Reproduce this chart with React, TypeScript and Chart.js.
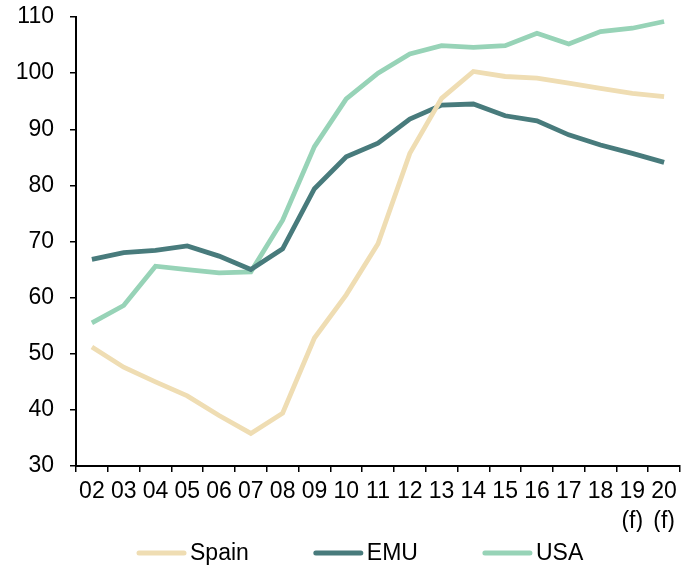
import { useEffect, useRef } from "react";
import { Chart, registerables } from "chart.js";

Chart.register(...registerables);

const categories: (string | string[])[] = [
  "02", "03", "04", "05", "06", "07", "08", "09", "10", "11",
  "12", "13", "14", "15", "16", "17", "18", ["19", "(f)"], ["20", "(f)"],
];
const spain = [51.2, 47.6, 45.0, 42.5, 39.0, 35.8, 39.4, 52.8, 60.5, 69.6, 85.7, 95.5, 100.3, 99.4, 99.1, 98.2, 97.3, 96.4, 95.8];
const emu = [66.8, 68.0, 68.4, 69.2, 67.4, 65.0, 68.7, 79.4, 85.1, 87.5, 91.8, 94.3, 94.5, 92.4, 91.5, 89.0, 87.2, 85.7, 84.1];
const usa = [55.5, 58.6, 65.6, 65.0, 64.4, 64.6, 73.8, 86.9, 95.4, 100.0, 103.4, 104.9, 104.6, 104.9, 107.1, 105.2, 107.4, 108.0, 109.2];
const seriesNames = ["Spain", "EMU", "USA"];
const seriesColors = ["#EFDDB3", "#487B7C", "#97D3B7"];
const yMin = 30;
const yMax = 110;
const yStep = 10;

const FONT = "'Liberation Sans', Arial, sans-serif";
const FONT_SIZE = 23;

const lineLegend = {
  id: "lineLegend",
  afterDraw(chart: any) {
    const ctx = chart.ctx as CanvasRenderingContext2D;
    const ds = chart.data.datasets;
    ctx.save();
    ctx.font = `${FONT_SIZE}px ${FONT}`;
    ctx.textBaseline = "middle";
    ctx.textAlign = "left";
    const lineW = 45;
    const gap = 6;
    const spacing = 67;
    const y = 553;
    let x = chart.chartArea.left + 63;
    ds.forEach((d: any) => {
      ctx.strokeStyle = d.borderColor;
      ctx.lineWidth = 5;
      ctx.lineCap = "round";
      ctx.beginPath();
      ctx.moveTo(x, y);
      ctx.lineTo(x + lineW, y);
      ctx.stroke();
      ctx.fillStyle = "#000";
      ctx.fillText(d.label, x + lineW + gap, y + 1);
      x += lineW + gap + ctx.measureText(d.label).width + spacing;
    });
    ctx.restore();
  },
};

export default function App() {
  const ref = useRef<HTMLCanvasElement | null>(null);
  useEffect(() => {
    if (!ref.current) return;
    const series = [spain, emu, usa];
    const chart = new Chart(ref.current, {
      type: "line",
      data: {
        labels: categories,
        datasets: series.map((s, i) => ({
          label: seriesNames[i],
          data: s,
          borderColor: seriesColors[i],
          backgroundColor: seriesColors[i],
          borderWidth: 4.8,
          pointRadius: 0,
          tension: 0,
          fill: false,
        })),
      },
      options: {
        animation: false,
        responsive: false,
        maintainAspectRatio: false,
        layout: { padding: { top: 17, right: 1, bottom: 35, left: 0 } },
        plugins: {
          legend: { display: false },
          tooltip: { enabled: false },
        },
        scales: {
          x: {
            offset: true,
            grid: {
              display: true,
              drawOnChartArea: false,
              offset: true,
              color: "#000",
              lineWidth: 1.5,
              tickLength: 6,
            },
            border: { color: "#000", width: 2 },
            ticks: {
              color: "#000",
              font: { family: FONT, size: FONT_SIZE, lineHeight: 1.3 },
              padding: 5,
              maxRotation: 0,
              autoSkip: false,
            },
            afterFit: (s: any) => { s.height = 66; s.paddingLeft = 0; s.paddingRight = 0; },
          },
          y: {
            min: yMin,
            max: yMax,
            grid: {
              display: true,
              drawOnChartArea: false,
              color: "#000",
              lineWidth: 1.5,
              tickLength: 6,
            },
            border: { color: "#000", width: 2 },
            ticks: {
              stepSize: yStep,
              color: "#000",
              font: { family: FONT, size: FONT_SIZE },
              padding: 16,
            },
            afterFit: (s: any) => { s.width = 76; s.paddingTop = 0; s.paddingBottom = 0; },
          },
        },
      },
      plugins: [lineLegend],
    });
    return () => chart.destroy();
  }, []);
  return (
    <div style={{ position: "fixed", left: 0, top: 0, width: 681, height: 567, background: "#fff" }}>
      <canvas ref={ref} width={681} height={567} style={{ display: "block" }} />
    </div>
  );
}
